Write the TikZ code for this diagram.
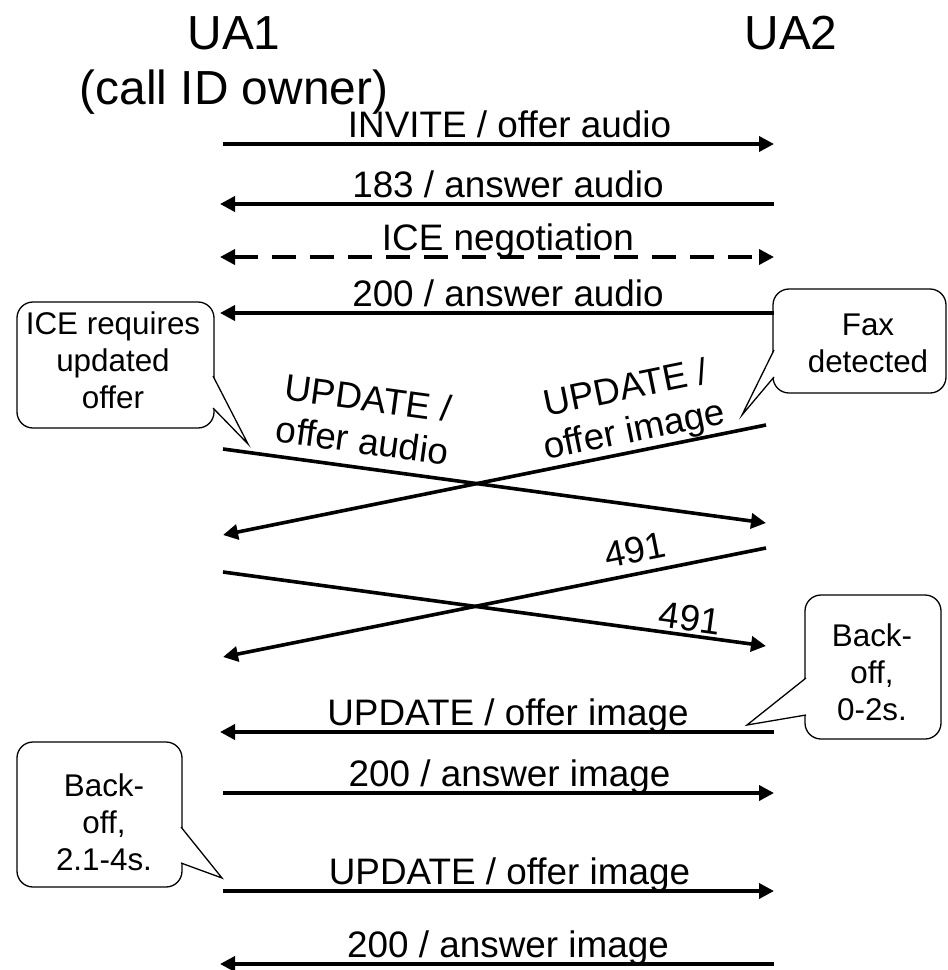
\documentclass[tikz,border=0pt]{standalone}
\usepackage{fontspec}
\setmainfont{Liberation Sans}
\usetikzlibrary{calc}
\usetikzlibrary{positioning}
\usetikzlibrary{arrows.meta}

\tikzset{
	msg/.style={line width=3.6bp, -{Triangle[length=15bp,width=15bp]}},
	both/.style={line width=3.6bp, {Triangle[length=15bp,width=15bp]}-{Triangle[length=15bp,width=15bp]}, dash pattern=on 24bp off 14bp},
	lbl/.style={font=\fontsize{37}{40}\selectfont, inner sep=0pt, anchor=base, xshift=11bp, yshift=7bp},
	slbl/.style={font=\fontsize{37}{43}\selectfont, inner sep=0pt, align=center, sloped},
	head/.style={font=\fontsize{48}{55}\selectfont, inner sep=0pt, anchor=base},
	bubble/.style={draw, line width=1.3bp, rounded corners=16bp, outer sep=0pt, inner sep=0pt},
	bubbletext/.style={font=\fontsize{31.5}{37}\selectfont, inner sep=0pt, align=center},
	pointer/.style={draw, fill=white, line width=1.3bp, line join=miter}
}

\begin{document}
\begin{tikzpicture}[x=1bp, y=-1bp]
			\useasboundingbox (0,0) rectangle (948,970);
			
			\node[head] (ua1) at (234,49) {UA1};
			\node[head] (owner) at (234,104) {(call ID owner)};
			\node[head] (ua2) at (791,49) {UA2};
			
			% message ends
			\coordinate (L1) at (223,144);  \coordinate (R1) at (774,144);
			\coordinate (L2) at (220,204);  \coordinate (R2) at (774,204);
			\coordinate (L3) at (220,257);  \coordinate (R3) at (774,257);
			\coordinate (L4) at (220,313);  \coordinate (R4) at (774,313);
			\coordinate (L5) at (223,449);  \coordinate (R5) at (766,523);
			\coordinate (L6) at (223,535);  \coordinate (R6) at (766,425);
			\coordinate (L7) at (223,572);  \coordinate (R7) at (766,646);
			\coordinate (L8) at (223,657);  \coordinate (R8) at (766,548);
			\coordinate (L9) at (220,732);  \coordinate (R9) at (774,732);
			\coordinate (L10) at (223,793); \coordinate (R10) at (774,793);
			\coordinate (L11) at (223,891); \coordinate (R11) at (774,891);
			\coordinate (L12) at (220,964); \coordinate (R12) at (774,964);
			
			% notes
			\node[bubble, minimum width=197bp, minimum height=126bp] (ice) at (115.5,365) {};
			\node[bubbletext] (icetext) at (113,360) {ICE requires\\updated\\offer};
			\coordinate (icetip) at (248,444);
			\draw[pointer] ($(ice.north east)+(-1,74)$) -- (icetip) -- ($(ice.north east)+(-1,106)$);
			
			\node[bubble, minimum width=173bp, minimum height=104bp] (fax) at (859.5,341) {};
			\node[bubbletext] (faxtext) at (868,343) {Fax\\detected};
			\coordinate (faxtip) at (742,415);
			\draw[pointer] ($(fax.north west)+(1,61)$) -- (faxtip) -- ($(fax.north west)+(1,88)$);
			
			\node[bubble, minimum width=136bp, minimum height=144bp] (bo1) at (873,667) {};
			\node[bubbletext] (bo1text) at (872,672) {Back-\\off,\\0-2s.};
			\coordinate (bo1tip) at (747,725);
			\draw[pointer] ($(bo1.north west)+(1,83)$) -- (bo1tip) -- ($(bo1.north west)+(1,120)$);
			
			\node[bubble, minimum width=165bp, minimum height=145bp] (bo2) at (99.5,814.5) {};
			\node[bubbletext] (bo2text) at (104,822) {Back-\\off,\\2.1-4s.};
			\coordinate (bo2tip) at (222,878);
			\draw[pointer] ($(bo2.north east)+(-1,85)$) -- (bo2tip) -- ($(bo2.north east)+(-1,121)$);
			
			% messages
			\draw[msg] (L1) -- (R1) node[lbl, midway] {INVITE / offer audio};
			\draw[msg] (R2) -- (L2) node[lbl, midway] {183 / answer audio};
			\draw[both] (L3) -- (R3) node[lbl, midway] {ICE negotiation};
			\draw[msg] (R4) -- (L4) node[lbl, midway] {200 / answer audio};
			
			\draw[msg] (L5) -- (R5) node[slbl, pos=0.25, above=12bp] {UPDATE /\\offer audio};
			\draw[msg] (R6) -- (L6) node[slbl, pos=0.235, above=0bp] {UPDATE /\\offer image};
			
			\draw[msg] (L7) -- (R7) node[slbl, pos=0.856, above=2.5bp] {491};
			\draw[msg] (R8) -- (L8) node[slbl, pos=0.232, above=8.5bp] {491};
			
			\draw[msg] (R9) -- (L9) node[lbl, midway] {UPDATE / offer image};
			\draw[msg] (L10) -- (R10) node[lbl, midway] {200 / answer image};
			\draw[msg] (L11) -- (R11) node[lbl, midway] {UPDATE / offer image};
			\draw[msg] (R12) -- (L12) node[lbl, midway] {200 / answer image};
		\end{tikzpicture}
\end{document}
